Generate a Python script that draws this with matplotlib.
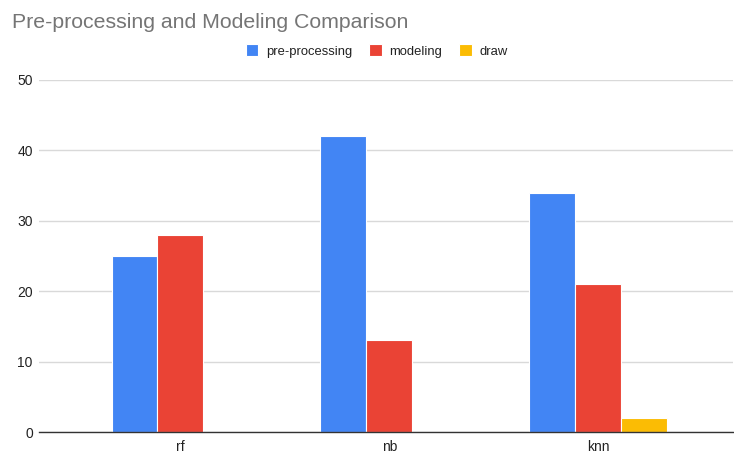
import matplotlib
matplotlib.use("Agg")
import matplotlib.pyplot as plt
import numpy as np

# Data
models = ["rf", "nb", "knn"]
series_names = ["pre-processing", "modeling", "draw"]
preprocessing = [25, 42, 34]
modeling = [28, 13, 21]
draw = [0, 0, 2]
y_ticks = [0, 10, 20, 30, 40, 50]

colors = ["#4285F4", "#EA4335", "#FBBC04"]

plt.rcParams["font.family"] = ["Liberation Sans", "DejaVu Sans"]

W, H = 734, 454
fig = plt.figure(figsize=(W / 100, H / 100), dpi=100)

left_px, right_px = 39, 733
bottom_px, top_px = 432, 80
ax = fig.add_axes([left_px / W, 1 - bottom_px / H,
                   (right_px - left_px) / W, (bottom_px - top_px) / H])

x = np.arange(len(models))
bar_w = 0.22
values = [preprocessing, modeling, draw]
handles = []
for i, (name, vals, c) in enumerate(zip(series_names, values, colors)):
    offs = (i - 1) * bar_w
    b = ax.bar(x + offs, vals, width=bar_w, color=c, edgecolor="white",
               linewidth=0.8, label=name, zorder=3)
    handles.append(b)

ax.set_xlim(-0.677, 2.644)
ax.set_ylim(0, 50)
ax.set_yticks(y_ticks)
ax.set_xticks(x)
ax.set_xticklabels(models)

ax.grid(axis="y", color="#d9d9d9", linewidth=1.0, zorder=0)
for s in ["top", "right", "left"]:
    ax.spines[s].set_visible(False)
ax.spines["bottom"].set_color("#333333")
ax.spines["bottom"].set_linewidth(1.0)
ax.spines["bottom"].set_zorder(4)

ax.tick_params(axis="both", length=0, labelsize=10, labelcolor="#222222")
ax.tick_params(axis="y", pad=4.5)
ax.tick_params(axis="x", pad=5.5)

fig.text(12 / W, 1 - 27.5 / H, "Pre-processing and Modeling Comparison",
         fontsize=15.3, color="#757575", ha="left", va="baseline")

leg = fig.legend(handles=handles, labels=series_names, loc="center",
                 bbox_to_anchor=(376.8 / W, 1 - 51 / H), ncol=3, frameon=False,
                 fontsize=9.4, handlelength=0.95, handleheight=0.95,
                 handletextpad=0.6, columnspacing=1.3, borderpad=0)
for t in leg.get_texts():
    t.set_color("#222222")

fig.savefig("out.png", dpi=100)
